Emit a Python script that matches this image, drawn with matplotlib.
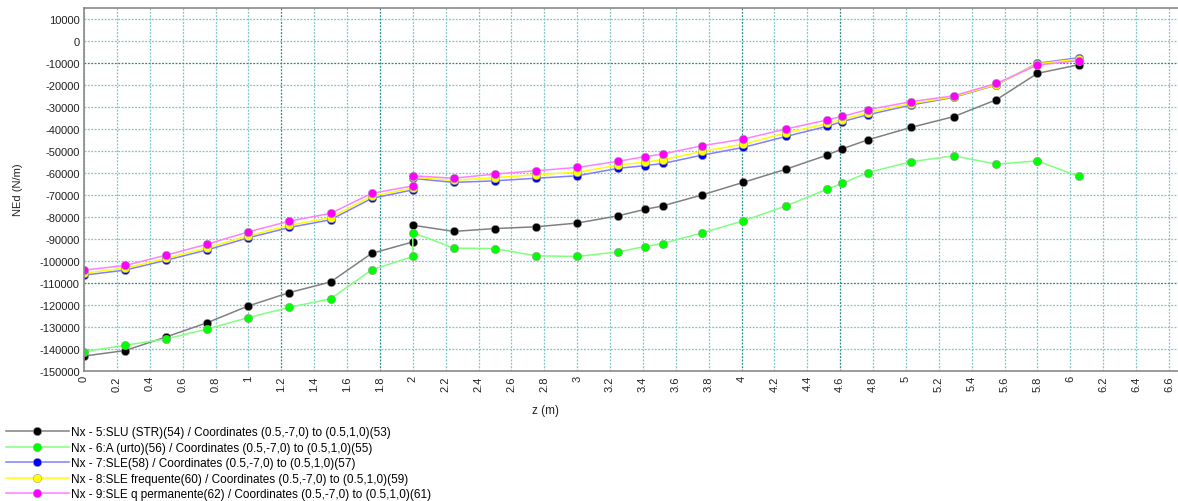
import matplotlib
matplotlib.use("Agg")
import matplotlib.pyplot as plt
import numpy as np

plt.rcParams['font.family'] = ['Liberation Sans', 'DejaVu Sans']
plt.rcParams['axes.unicode_minus'] = False

# positions along the element (m); 2.0 appears twice (jump in the diagram)
z = [0, 0.25, 0.5, 0.75, 1.0, 1.25, 1.5, 1.75, 2.0, 2.0, 2.25, 2.5, 2.75, 3.0,
     3.25, 3.41, 3.52, 3.76, 4.01, 4.27, 4.52, 4.61, 4.77, 5.03, 5.29, 5.55,
     5.80, 6.05]

slu = [-143200, -140700, -134500, -128000, -120400, -114300, -109500, -96500,
       -91300, -83700, -86500, -85200, -84400, -82700, -79400, -76500, -74900,
       -69900, -64200, -58200, -51800, -49000, -44800, -39200, -34300, -26600,
       -14600, -10700]
urto = [-141200, -138300, -135400, -130900, -125700, -121000, -117200, -104000,
        -97900, -87000, -94100, -94300, -97600, -97900, -95800, -93400, -92000,
        -87200, -81700, -74900, -67300, -64700, -59700, -54800, -52100, -55900,
        -54400, -61500]
sle = [-106400, -104100, -99600, -94900, -89400, -84700, -81200, -71500,
       -67600, -62400, -64200, -63500, -62300, -61200, -57800, -56600, -55600,
       -51800, -48300, -43300, -38700, -36600, -33400, -29000, -25500, -19900,
       -10000, -7500]
sle_freq = [-105500, -103200, -98800, -93900, -88500, -83700, -80200, -70500,
            -66800, -61800, -63300, -62000, -60700, -59600, -56300, -55000,
            -53900, -50100, -46800, -41700, -37400, -35600, -32500, -28400,
            -25200, -19700, -10300, -8100]
sle_perm = [-104100, -102000, -97300, -92300, -86700, -81800, -78300, -69200,
            -65800, -61200, -62300, -60400, -58900, -57400, -54600, -52500,
            -51300, -47500, -44500, -39900, -35800, -34200, -31100, -27500,
            -24800, -19200, -10800, -8800]

labels = [
    "Nx - 5:SLU (STR)(54) / Coordinates (0.5,-7,0) to (0.5,1,0)(53)",
    "Nx - 6:A (urto)(56) / Coordinates (0.5,-7,0) to (0.5,1,0)(55)",
    "Nx - 7:SLE(58) / Coordinates (0.5,-7,0) to (0.5,1,0)(57)",
    "Nx - 8:SLE frequente(60) / Coordinates (0.5,-7,0) to (0.5,1,0)(59)",
    "Nx - 9:SLE q permanente(62) / Coordinates (0.5,-7,0) to (0.5,1,0)(61)",
]
series = [slu, urto, sle, sle_freq, sle_perm]
line_cols = ['#808080', '#80ff80', '#8080ff', '#ffff00', '#ff80ff']
mark_cols = ['#000000', '#00ff00', '#0000ff', '#ffff00', '#ff00ff']

xticks = np.round(np.arange(0, 6.61, 0.2), 1)
yticks = np.arange(-150000, 10001, 10000)
dark_x = [1.2, 1.8, 4.0, 4.6]
dark_y = [-10000, -110000]

fig = plt.figure(figsize=(11.78, 5.02), dpi=100)
ax = fig.add_axes([84 / 1178, 1 - 372 / 502, 1 - 84 / 1178, (372 - 9.3) / 502])

for xv in xticks:
    c = '#1e8c8c' if xv in dark_x else '#7cc6c6'
    ax.axvline(xv, color=c, lw=0.9, ls=(0, (1.5, 1.2)), zorder=0)
for yv in yticks:
    c = '#1e8c8c' if yv in dark_y else '#7cc6c6'
    ax.axhline(yv, color=c, lw=0.9, ls=(0, (1.5, 1.2)), zorder=0)

for vals, lc, mc, lab in zip(series, line_cols, mark_cols, labels):
    ax.plot(z, vals, color=lc, lw=1.1, marker='o', ms=6,
            markerfacecolor=mc, markeredgecolor='#9a9a9a', markeredgewidth=0.4,
            label=lab)

ax.set_xlim(0, 6.655)
ax.set_ylim(-150000, 15000)
ax.set_xticks(xticks)
ax.set_xticklabels([f"{v:g}" for v in xticks], rotation=90)
ax.set_yticks(yticks)
ax.set_yticklabels([str(v) for v in yticks])
ax.tick_params(labelsize=8, length=0, pad=3, colors='#222222')

for s in ['left', 'top', 'bottom']:
    ax.spines[s].set_color('#8a8a8a')
    ax.spines[s].set_linewidth(1.2)
ax.spines['right'].set_visible(False)

fig.text(18 / 1178, 1 - 190 / 502, "NEd (N/m)", rotation=90, fontsize=8,
         ha='center', va='center', color='#222222')
fig.text(546 / 1178, 1 - 411 / 502, "z (m)", fontsize=8.5,
         ha='center', va='center', color='#222222')

handles, labs = ax.get_legend_handles_labels()
fig.legend(handles, labs, loc='upper left', bbox_to_anchor=(5 / 1178, 1 - 426 / 502),
           frameon=False, fontsize=8.5, handlelength=5.3, handletextpad=0.15,
           labelspacing=0.3, borderaxespad=0, borderpad=0.1, numpoints=1)

fig.savefig("out.png", dpi=100)
